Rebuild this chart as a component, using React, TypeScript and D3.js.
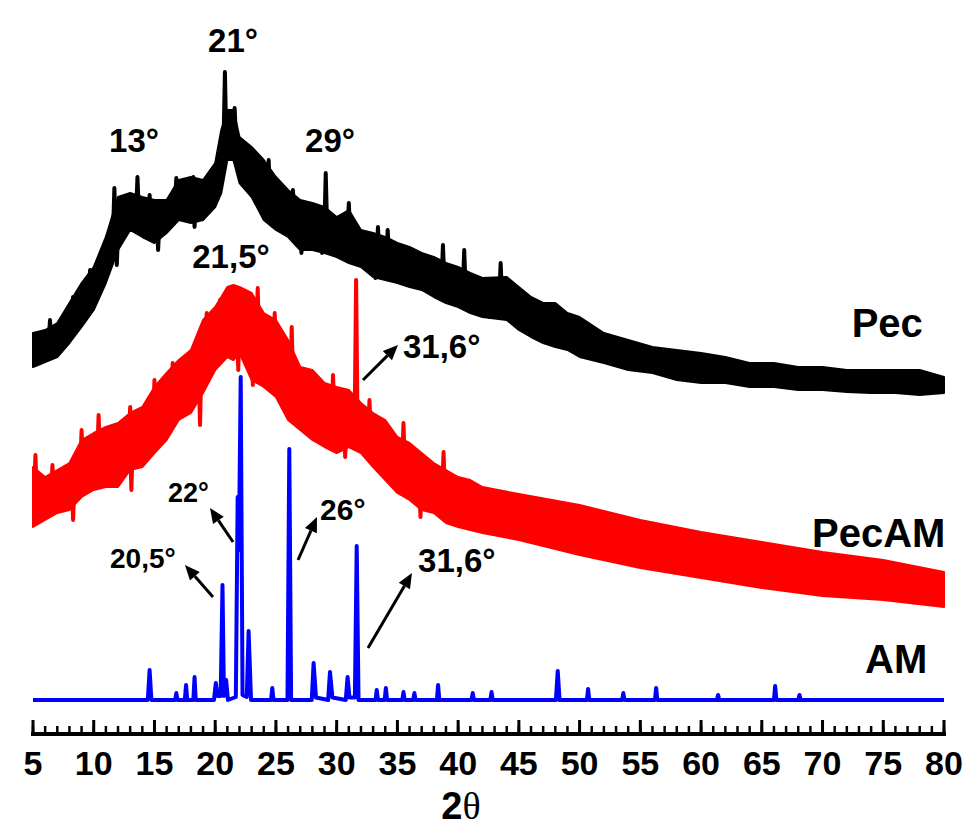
import React from 'react';
import * as d3 from 'd3';

const W = 965;
const H = 829;

// ---- Pec (black) band: upper / lower envelope, intensity a.u.
const pecAngles = [5,6,7,8,9,10,11,12,13,14,15,16,17,18,19,20,20.5,21,21.5,22,23,24,25,26,27,28,29,30,31,32,33,34,35,36,37,38,39,40,41,42,44,45,46,47,48,49,50,52,54,56,58,60,62,64,66,68,70,72,74,76,78,80];
const pecUpper = [73.4,74.0,75.4,79.4,83.4,86.6,92.6,100.6,101.4,100.6,100,100,104,104.6,104,107.4,114,118,118,112.6,110.6,108,104.6,102,100,99.4,98.6,96.6,98,94,93.4,92.6,91.4,90.6,89.4,88.6,87.4,86.6,85.4,84.4,84.6,82.6,80.6,79.4,79.4,77.4,76.6,73.4,72,70.6,70,69.4,68.6,67.4,67.4,66.6,66.6,66,66,66,66,64.6];
const pecLower = [66.6,67.6,68.6,71.4,74.6,78,83.4,90,94,92.6,91.4,93.4,96,95.4,96,98.6,101.4,108,108,103.4,100.6,96,94,92.6,90,90,89.4,88.6,87.4,86.6,84.6,84,83.4,82.6,82,80.6,79.4,78.6,77.4,76.6,76,74,72.6,71.4,70.6,70,68.6,67.4,66,65.4,64,63.4,63.4,62.6,62.6,62,62,61.6,61.4,61.4,61,61.4];
// sharp noise spikes (up and down)
const pecSpikeAngles = [6.4,8.3,9.7,10.8,11.7,11.9,13.6,14.6,15.3,16.8,18.2,18.3,19.7,20.8,21.6,23.1,24.4,26.4,27.1,27.4,28.8,29.1,31.0,33.2,33.4,34.2,38.75,40.5,42.6,43.5];
const pecSpikeTops = [76,80.6,86,88.6,102.4,87,104.6,101,90,104.4,104.6,94.6,106,125.6,118.4,110,108,102,89.4,99,89.4,105.4,99.4,84.4,94.6,94,91,90,76.6,87.4];

// ---- PecAM (red) band
const redAngles = [5,6,7,8,9,10,11,12,13,14,15,16,17,18,19,20,21,21.5,22,23,24,25,26,27,28,29,30,31,32,33,34,35,36,37,38,39,40,41,42,45,50,55,60,65,70,75,80];
const redUpper = [46.6,44.6,46,47.4,52,53.4,54.6,55.4,57.4,58.6,62.6,65.4,68,70,76,78.6,82.6,83,82.6,81.4,77.4,76,72,66.6,66,63.4,62.6,62,59.4,57.4,56,52.6,51.4,49.4,47.4,46,44.6,44,42.6,41.2,39,36,33.6,31.6,29.6,28,25.6];
const redLower = [34.6,36,37.4,38,40.6,42,42.6,42.6,46,46.6,49.4,52,56,57.4,61.4,66,68.6,68,69.4,64,62.6,60.6,56,54,52,50.6,49.4,50.6,49.4,46.6,44,41.4,40,38,37.4,35.4,34.6,34,33.4,32,29,26.4,24.4,22.4,20.8,20,18.6];
const redSpikeAngles = [5.2,6.6,8.3,9.0,10.4,13.0,13.1,15.0,16.5,18.75,19.3,20.4,21.9,23.1,23.5,24.9,26.3,29.7,30.7,31.6,32.7,35.5,36.9,38.8];
const redSpikeTops = [49,47,36,54,57,58.6,42,64,67.4,55,77.4,80,66,63,82.4,77.4,74.6,65,48.6,84,60,55.4,36.6,49.6];

// ---- AM (blue) pattern
const amAngles = [5,14.45,14.6,14.75,16.7,16.8,16.9,17.5,17.6,17.7,18.2,18.3,18.4,19.9,20.05,20.2,20.45,20.6,20.72,20.9,21.05,21.7,21.85,21.95,22.1,22.25,22.6,22.75,22.95,24.6,24.7,24.8,25.95,26.1,26.25,27.95,28.1,28.3,29.3,29.45,29.65,30.75,30.9,31.05,31.5,31.65,31.8,33.2,33.3,33.4,33.95,34.05,34.15,35.4,35.5,35.6,36.3,36.4,36.5,38.25,38.35,38.45,41.1,41.2,41.3,42.65,42.75,42.85,48.05,48.2,48.35,50.6,50.7,50.8,53.5,53.6,53.7,56.2,56.3,56.4,61.3,61.4,61.5,66,66.1,66.2,68,68.1,68.2,80];
const amIntensity = [0,0,6,0,0,1.4,0,0,3,0,0,4.6,0,0,3.4,0.8,0.8,23,0.8,4,0,0.6,40.6,30,64.6,1,0.6,13.8,0,0,2.4,0,0,50.2,0,0,7.4,0.5,0,5.6,0.5,0,4.6,0.5,0.5,30.8,0,0,2,0,0,2.4,0,0,1.6,0,0,1.4,0,0,3,0,0,1.4,0,0,1.6,0,0,5.8,0,0,2.2,0,0,1.4,0,0,2.4,0,0,1,0,0,2.8,0,0,1,0,0];

// ---- axis
const majorTicks = [5,10,15,20,25,30,35,40,45,50,55,60,65,70,75,80];
const minorTicks = d3.range(5, 81, 1);

// ---- annotations (angle, intensity)
const peakLabels = ['21°','13°','29°','21,5°'];
const peakLabelAngles = [21.47,13.32,29.45,21.3];
const peakLabelValues = [129.6,109.6,109.6,86.4];

const arrowLabels = ['31,6°','22°','20,5°','26°','31,6°'];
const arrowLabelAngles = [35.46,16.11,11.34,28.63,36.7];
const arrowLabelValues = [68.4,39.6,26.4,36,25.6];
const arrowLabelSizes = [33,27,28,30,33];
const arrowTailAngles = [32.17,21.47,19.82,26.82,32.58];
const arrowTailValues = [64,31.6,20.6,28,10.4];
const arrowHeadAngles = [35.05,19.57,17.51,28.38,36.2];
const arrowHeadValues = [71,38.4,27,36.6,25.4];

const seriesNames = ['Pec','PecAM','AM'];
const seriesNameAngles = [72.4,69.13,73.5];
const seriesNameValues = [72.6,30.6,5.4];

const FONT = '"Liberation Sans", Arial, Helvetica, sans-serif';

export default function App() {
  const x = d3.scaleLinear().domain([5, 80]).range([33, 944]);
  const y = d3.scaleLinear().domain([0, 140]).range([700, 0]);
  const axisY = 734;

  const band = (angles: number[], up: number[], lo: number[]) =>
    d3.area<number>()
      .x((_, i) => x(angles[i]))
      .y0((_, i) => y(lo[i]))
      .y1((_, i) => y(up[i]))(angles) || '';

  const interp = (angles: number[], vals: number[], a: number) => {
    const i = Math.max(1, Math.min(angles.length - 1, d3.bisectLeft(angles, a)));
    const t = (a - angles[i - 1]) / (angles[i] - angles[i - 1]);
    return vals[i - 1] + t * (vals[i] - vals[i - 1]);
  };

  const spikes = (sa: number[], st: number[], angles: number[], up: number[], lo: number[]) =>
    sa.map((a, i) => {
      const base = (interp(angles, up, a) + interp(angles, lo, a)) / 2;
      return `M${x(a - 0.12)},${y(base)}L${x(a)},${y(st[i])}L${x(a + 0.12)},${y(base)}`;
    }).join('');

  const amLine = d3.line<number>()
    .x((_, i) => x(amAngles[i]))
    .y((_, i) => y(amIntensity[i]))(amAngles) || '';

  const arrows = arrowLabels.map((_, i) => {
    const x1 = x(arrowTailAngles[i]), y1 = y(arrowTailValues[i]);
    const x2 = x(arrowHeadAngles[i]), y2 = y(arrowHeadValues[i]);
    const dx = x2 - x1, dy = y2 - y1;
    const len = Math.hypot(dx, dy);
    const ux = dx / len, uy = dy / len;
    const hl = 15, hw = 6.5;
    const bx = x2 - ux * hl, by = y2 - uy * hl;
    const tri = `M${x2},${y2}L${bx - uy * hw},${by + ux * hw}L${bx + uy * hw},${by - ux * hw}Z`;
    return { x1, y1, bx, by, tri };
  });

  return (
    <svg width={W} height={H} style={{ position: 'absolute', left: 0, top: 0, background: '#fff' }}>
      {/* Pec */}
      <path d={band(pecAngles, pecUpper, pecLower)} fill="#000" stroke="#000" strokeWidth={2} strokeLinejoin="round" />
      <path d={spikes(pecSpikeAngles, pecSpikeTops, pecAngles, pecUpper, pecLower)} fill="none" stroke="#000" strokeWidth={4} strokeLinejoin="round" />
      {/* PecAM */}
      <path d={band(redAngles, redUpper, redLower)} fill="#ff0000" stroke="#ff0000" strokeWidth={2} strokeLinejoin="round" />
      <path d={spikes(redSpikeAngles, redSpikeTops, redAngles, redUpper, redLower)} fill="none" stroke="#ff0000" strokeWidth={4} strokeLinejoin="round" />
      {/* AM */}
      <path d={amLine} fill="none" stroke="#0000ff" strokeWidth={4} strokeLinejoin="round" />

      {/* axis */}
      <line x1={x(5) - 2} x2={x(80) + 2} y1={axisY} y2={axisY} stroke="#000" strokeWidth={4} />
      {minorTicks.map(t => (
        <line key={'m' + t} x1={x(t)} x2={x(t)} y1={axisY} y2={axisY - 8} stroke="#000" strokeWidth={2.5} />
      ))}
      {majorTicks.map(t => (
        <line key={'M' + t} x1={x(t)} x2={x(t)} y1={axisY} y2={axisY - 14} stroke="#000" strokeWidth={3} />
      ))}
      {majorTicks.map(t => (
        <text key={'l' + t} x={x(t)} y={775} textAnchor="middle" fontFamily={FONT} fontWeight="bold" fontSize={34} fill="#000">{t}</text>
      ))}
      <text x={461} y={819} textAnchor="middle" fill="#000">
        <tspan fontFamily={FONT} fontWeight="bold" fontSize={38}>2</tspan>
        <tspan fontFamily='"Liberation Serif", "Times New Roman", serif' fontSize={38}>θ</tspan>
      </text>

      {/* peak labels */}
      {peakLabels.map((s, i) => (
        <text key={'p' + i} x={x(peakLabelAngles[i])} y={y(peakLabelValues[i])} textAnchor="middle" fontFamily={FONT} fontWeight="bold" fontSize={33} fill="#000">{s}</text>
      ))}
      {arrows.map((a, i) => (
        <g key={'a' + i}>
          <line x1={a.x1} y1={a.y1} x2={a.bx} y2={a.by} stroke="#000" strokeWidth={3} />
          <path d={a.tri} fill="#000" />
        </g>
      ))}
      {arrowLabels.map((s, i) => (
        <text key={'al' + i} x={x(arrowLabelAngles[i])} y={y(arrowLabelValues[i])} fontFamily={FONT} fontWeight="bold" fontSize={arrowLabelSizes[i]} fill="#000">{s}</text>
      ))}
      {seriesNames.map((s, i) => (
        <text key={'s' + i} x={x(seriesNameAngles[i])} y={y(seriesNameValues[i])} fontFamily={FONT} fontWeight="bold" fontSize={40} fill="#000">{s}</text>
      ))}
    </svg>
  );
}
